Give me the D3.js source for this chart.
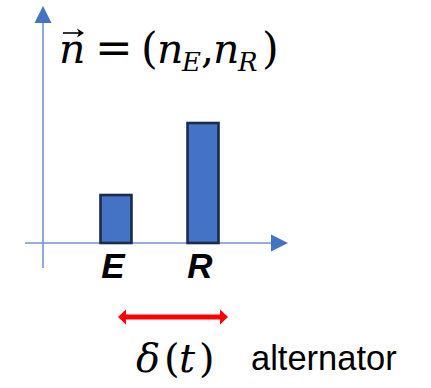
<!DOCTYPE html>
<html>
<head>
<meta charset="utf-8">
<script src="https://cdn.jsdelivr.net/npm/d3@7"></script>
<style>
  html, body { margin: 0; padding: 0; background: #fff; }
  svg { display: block; }
</style>
</head>
<body>
<svg id="chart" width="431" height="388"></svg>
<script>
// Occupation numbers of the two states
const categories = ["E", "R"];
const values = [2, 5];
const tickLabels = ["E", "R"];

const svg = d3.select("#chart");
const axisBlue = "#4472C4";
const axisLine = "#6F95D6";

// Scales
const x = d3.scaleBand()
  .domain(categories)
  .range([100.5, 218.5])
  .paddingInner(0.644)
  .paddingOuter(0);

const y = d3.scaleLinear()
  .domain([0, 5])
  .range([243, 123]);

const x0 = 43;            // vertical axis position
const yBase = y(0);       // horizontal axis position

// Vertical axis with arrowhead
svg.append("line")
  .attr("x1", x0).attr("x2", x0)
  .attr("y1", 268).attr("y2", 20)
  .attr("stroke", axisLine).attr("stroke-width", 1.6);
svg.append("path")
  .attr("d", `M${x0},6 L${x0 + 8.5},23 L${x0 - 8.5},23 Z`)
  .attr("fill", axisBlue);

// Horizontal axis with arrowhead
svg.append("line")
  .attr("x1", 25).attr("x2", 273)
  .attr("y1", yBase).attr("y2", yBase)
  .attr("stroke", axisLine).attr("stroke-width", 1.6);
svg.append("path")
  .attr("d", `M288,${yBase} L271,${yBase - 8.5} L271,${yBase + 8.5} Z`)
  .attr("fill", axisBlue);

// Bars
svg.append("g")
  .selectAll("rect")
  .data(categories.map((c, i) => ({ c, v: values[i] })))
  .join("rect")
  .attr("x", d => x(d.c))
  .attr("y", d => y(d.v))
  .attr("width", x.bandwidth())
  .attr("height", d => yBase - y(d.v))
  .attr("fill", "#4472C4")
  .attr("stroke", "#1B2B4B")
  .attr("stroke-width", 2.6);

// Category labels
const xAxis = svg.append("g")
  .attr("transform", `translate(0,${yBase})`)
  .call(d3.axisBottom(x).tickSize(0).tickPadding(10)
    .tickFormat((d, i) => tickLabels[i]));
xAxis.select(".domain").remove();
xAxis.selectAll("text")
  .attr("font-family", "Liberation Sans, Arial, sans-serif")
  .attr("font-size", 35)
  .attr("font-weight", "bold")
  .attr("font-style", "italic")
  .attr("fill", "#000")
  .attr("dx", -3)
  .attr("dy", "0.71em");

// Formula: vector n = (n_E, n_R)
const serif = "DejaVu Serif, Liberation Serif, serif";
const f = svg.append("text")
  .attr("font-family", serif)
  .attr("font-size", 41)
  .attr("fill", "#000");
const base = 63, sub = 71;
const parts = [
  { t: "n", x: 59, y: base, it: true },
  { t: "=", x: 95, y: base, s: 45 },
  { t: "(", x: 141, y: base, s: 43 },
  { t: "n", x: 157, y: base, it: true },
  { t: "E", x: 182, y: sub, it: true, s: 26 },
  { t: ",", x: 201, y: base },
  { t: "n", x: 213, y: base, it: true },
  { t: "R", x: 238, y: sub, it: true, s: 26 },
  { t: ")", x: 262, y: base, s: 43 }
];
f.selectAll("tspan")
  .data(parts)
  .join("tspan")
  .attr("x", d => d.x)
  .attr("y", d => d.y)
  .attr("font-style", d => d.it ? "italic" : "normal")
  .attr("font-size", d => d.s || null)
  .text(d => d.t);

// Vector arrow above n
const ax0 = 63, ax1 = 84, ay = 33;
svg.append("line")
  .attr("x1", ax0).attr("x2", ax1 - 3)
  .attr("y1", ay).attr("y2", ay)
  .attr("stroke", "#000").attr("stroke-width", 1.6);
svg.append("path")
  .attr("d", `M${ax1},${ay} L${ax1 - 7},${ay - 4.5} L${ax1 - 5},${ay} L${ax1 - 7},${ay + 4.5} Z`)
  .attr("fill", "#000");

// Red double-headed arrow
const red = "#FF0000";
const ry = 317, rx0 = 118, rx1 = 228;
svg.append("line")
  .attr("x1", rx0 + 6).attr("x2", rx1 - 6)
  .attr("y1", ry).attr("y2", ry)
  .attr("stroke", red).attr("stroke-width", 5);
svg.append("path")
  .attr("d", `M${rx0},${ry} L${rx0 + 8},${ry - 7.5} L${rx0 + 8},${ry + 7.5} Z`)
  .attr("fill", red);
svg.append("path")
  .attr("d", `M${rx1},${ry} L${rx1 - 8},${ry - 7.5} L${rx1 - 8},${ry + 7.5} Z`)
  .attr("fill", red);

// delta(t)
const dParts = [
  { t: "δ", x: 136, it: true },
  { t: "(", x: 164 },
  { t: "t", x: 179, it: true },
  { t: ")", x: 199 }
];
svg.append("text")
  .attr("font-family", serif)
  .attr("font-size", 40)
  .attr("fill", "#000")
  .selectAll("tspan")
  .data(dParts)
  .join("tspan")
  .attr("x", d => d.x)
  .attr("y", 372)
  .attr("font-style", d => d.it ? "italic" : "normal")
  .text(d => d.t);

// alternator
svg.append("text")
  .attr("x", 251).attr("y", 370)
  .attr("font-family", "Liberation Sans, Arial, sans-serif")
  .attr("font-size", 34.5)
  .attr("fill", "#000")
  .text("alternator");
</script>
</body>
</html>
